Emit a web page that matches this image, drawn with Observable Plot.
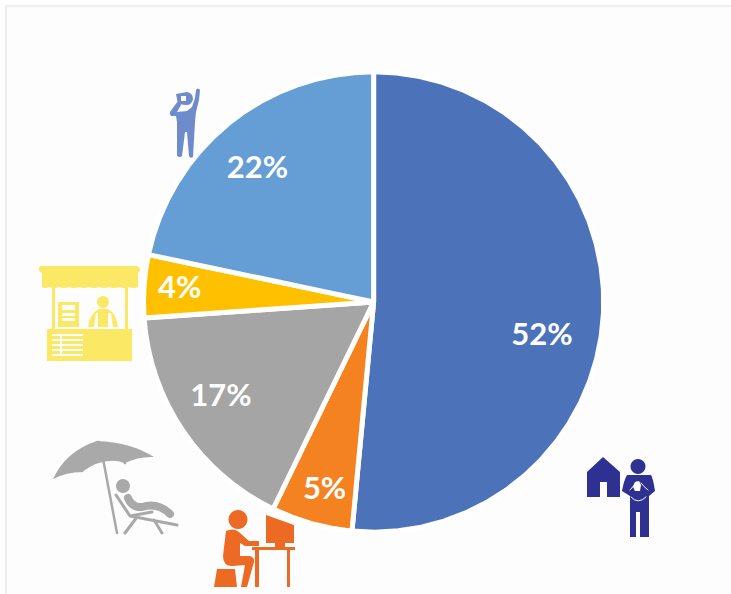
<!DOCTYPE html>
<html>
<head>
<meta charset="utf-8">
<script src="https://cdn.jsdelivr.net/npm/d3@7"></script>
<script src="https://cdn.jsdelivr.net/npm/@observablehq/plot@0.6"></script>
<style>
html,body{margin:0;padding:0;background:#fff;}
#frame{position:absolute;left:5px;top:5px;width:726px;height:589px;box-sizing:border-box;background:#fdfdfd;border-left:2px solid #eeeeee;border-top:2px solid #eeeeee;}
#chart{position:absolute;left:0;top:0;}
</style>
</head>
<body>
<div id="frame"></div>
<div id="chart"></div>
<script>
const categories = ["Home care", "Desk work", "Leisure", "Market stall", "Sightseeing"];
const shares = [51.5, 5.7, 16.7, 4.4, 21.7];
const labels = ["52%", "5%", "17%", "4%", "22%"];
const colors = ["#4C73B9", "#F58220", "#A5A5A5", "#FFC000", "#659ED5"];
const labelBearing = [101, 194.7, 238.3, 274, 319];
const labelReach = [0.745, 0.84, 0.78, 0.845, 0.77];

// Each slice is a wedge on a sphere: pole at the centre, equator as the rim.
const total = d3.sum(shares);
const ends = d3.cumsum(shares).map((s) => (s / total) * 360);
const toLon = (bearing) => 180 - bearing;
const slices = categories.map((category, i) => {
  const a0 = i ? ends[i - 1] : 0, a1 = ends[i];
  const mid = (a0 + a1) / 2;
  return {
    type: "Feature",
    properties: {category},
    geometry: {type: "Polygon", coordinates: [[
      [0, 90],
      [toLon(a0), 0],
      [toLon((a0 + mid) / 2), 0],
      [toLon(mid), 0],
      [toLon((mid + a1) / 2), 0],
      [toLon(a1), 0],
      [0, 90]
    ]]}
  };
});
const pie = {type: "FeatureCollection", features: slices};
const labelRows = labels.map((label, i) => ({
  label,
  lon: toLon(labelBearing[i]),
  lat: 90 * (1 - labelReach[i])
}));

const icons = [
  // person with camera
  {fill: "#6E8BCB", d: "M187 111 L192 107 L195 98 L196 90 Q198 87 200 90 L199 100 L196 112 L195 122 L193 157 Q190 159 189 156 L187 132 H185 L182 156 Q180 158 177 156 L177 122 L176 116 L171 116 Q169 114 170 112 L178 101 L181 105 L177 112 Z M176 94 L187 92 A6 6 0 1 1 186 105 L178 104 Z"},
  {fill: "#fff", d: "M181 96 h5 v5 h-5 Z"},
  // market stall
  {fill: "#FBE966", d: "M41 266 H137 Q140 267 140 271 L138 273 V287 Q133 289 129 287 Q124 289 119 287 Q114 289 109 287 Q104 289 99 287 Q94 289 89 287 Q84 289 79 287 Q74 289 69 287 Q64 289 59 287 Q54 289 49 287 Q45 289 42 287 V273 L39 271 Q38 267 41 266 Z M52 287 H55 V329 H52 Z M125 287 H128 V329 H125 Z M47 329 H132 V361 H47 Z M58 302 H79 V327 H58 Z"},
  {fill: "#FBE966", d: "M103 296 a6 6 0 1 1 -0.01 0 Z M88 327 Q90 313 99 309 H108 Q116 313 118 327 H113 L111 313 H96 L94 327 Z M98 312 H108 V327 H98 Z"},
  {fill: "#fdfdfd", d: "M62 305 H75 V310 H62 Z M62 313 H75 V316 H62 Z M62 318 H75 V321 H62 Z M52 334 H83 V336 H52 Z M52 339 H83 V341 H52 Z M52 344 H83 V346 H52 Z M52 349 H83 V351 H52 Z M52 354 H83 V356 H52 Z M60 334 H62 V356 H60 Z"},
  // beach chair and umbrella
  {fill: "#A9A9A9", d: "M97 441 Q130 442 154 457 Q139 456 125 463 Q104 456 82 472 Q67 472 53 479 Q66 451 97 441 Z"},
  {stroke: "#A9A9A9", width: 2.5, d: "M101 448 L117 533 M97 442 Q85 452 82 471 M98 442 Q113 447 125 463"},
  {fill: "#A9A9A9", d: "M123 479 a7 7 0 1 1 -0.01 0 Z"},
  {stroke: "#A9A9A9", width: 8, d: "M128 498 Q132 508 142 507 Q158 502 170 514"},
  {stroke: "#A9A9A9", width: 3, d: "M116 495 L130 516 L177 525 M137 517 L125 533 M154 520 L162 533 M130 516 L152 512"},
  // desk worker
  {fill: "#ED6A24", d: "M238 510 a9.5 9.5 0 1 1 -0.01 0 Z M226 531 Q234 527 240 533 L249 541 L259 541 V546 L245 546 L240 543 V556 H250 Q255 558 254 562 L247 587 H241 L245 565 L232 566 Q223 566 223 556 Z M217 569 H235 L237 587 H214 Z"},
  {fill: "#ED6A24", d: "M266 515 L294 525 V543 H266 Z M252 547 H295 V550 H252 Z M255 550 H259 V587 H255 Z M287 550 H290 V587 H287 Z M275 543 H285 V547 H275 Z"},
  // person holding baby, with house
  {fill: "#2E3192", d: "M603 457 L620 472 V497 H587 V472 Z M638 459 a7.5 7.5 0 1 1 -0.01 0 Z M627 475 H651 Q653 478 655 491 L649 496 V537 H640 V512 H636 V537 H630 V496 L622 491 Q624 480 627 475 Z"},
  {fill: "#fff", d: "M600 482 H607 V497 H600 Z M635 482 L639 481 L641 485 L640 491 L635 491 L633 487 Z"},
  {stroke: "#fff", width: 1, d: "M630 490 Q634 486 636 482 M648 490 Q644 487 641 483 M631 497 Q638 505 646 497"}
];

const drawIcons = () => {
  const g = d3.create("svg:g").attr("aria-label", "pictograms");
  for (const icon of icons) {
    g.append("path")
      .attr("d", icon.d)
      .attr("fill", icon.fill ?? "none")
      .attr("stroke", icon.stroke ?? "none")
      .attr("stroke-width", icon.width ?? null)
      .attr("stroke-linecap", "round")
      .attr("stroke-linejoin", "round");
  }
  return g.node();
};

const chart = Plot.plot({
  width: 731,
  height: 594,
  marginLeft: 143,
  marginRight: 128,
  marginTop: 71,
  marginBottom: 62,
  style: {background: "transparent"},
  projection: {type: "azimuthal-equidistant", rotate: [0, -90], domain: pie},
  color: {domain: categories, range: colors},
  marks: [
    Plot.geo(slices, {fill: (d) => d.properties.category, stroke: "white", strokeWidth: 5, strokeLinejoin: "miter"}),
    Plot.text(labelRows, {
      x: "lon",
      y: "lat",
      text: "label",
      fill: "white",
      fontSize: 31,
      fontWeight: 700,
      fontFamily: "Lato, 'Open Sans', sans-serif"
    }),
    drawIcons
  ]
});
document.getElementById("chart").append(chart);
</script>
</body>
</html>
